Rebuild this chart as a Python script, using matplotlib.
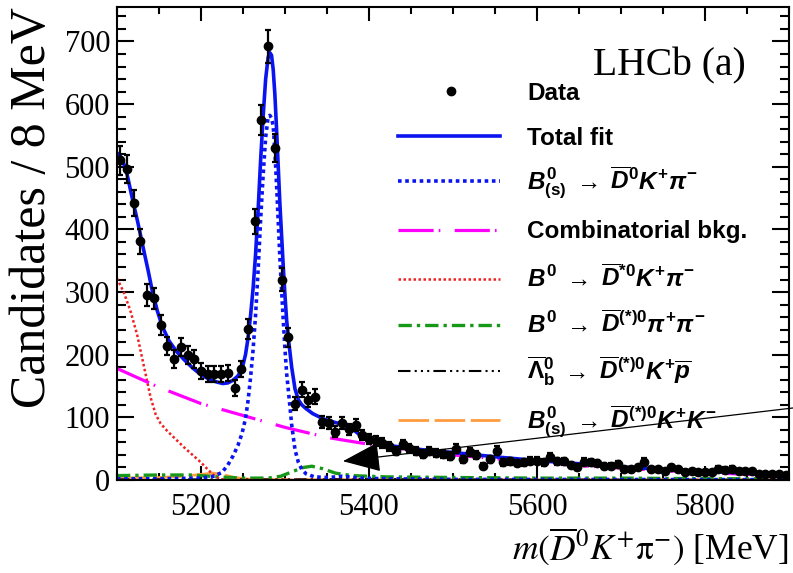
import numpy as np
import matplotlib.pyplot as plt
from matplotlib.ticker import MultipleLocator

plt.rcParams['mathtext.fontset'] = 'custom'
plt.rcParams['mathtext.rm'] = 'Liberation Sans:bold'
plt.rcParams['mathtext.it'] = 'Liberation Sans:italic:bold'
plt.rcParams['mathtext.bf'] = 'Liberation Sans:bold'

# data: 8 MeV bins from 5100 to 5900
bin_centers = np.arange(5104, 5900, 8)
counts = [510, 496, 442, 381, 295, 290, 247, 214, 193, 212,
          200, 193, 174, 169, 169, 169, 171, 147, 177, 241,
          413, 574, 692, 530, 320, 228, 122, 144, 128, 133,
          92, 91, 77, 91, 81, 88, 72, 66, 62, 59,
          54, 46, 57, 51, 46, 41, 46, 43, 41, 38,
          50, 33, 45, 40, 22, 33, 47, 28, 30, 27,
          28, 31, 31, 28, 37, 30, 30, 24, 20, 29,
          28, 27, 23, 22, 25, 17, 17, 20, 29, 17,
          17, 14, 20, 17, 12, 14, 12, 12, 12, 18,
          16, 18, 14, 14, 14, 9, 10, 9, 9, 8]
errors = np.sqrt(counts)

# fit components
total_m = [5100, 5106, 5112, 5119, 5125, 5131, 5137, 5142, 5148, 5154, 5162, 5171,
           5180, 5190, 5200, 5211, 5220, 5226, 5232, 5238, 5244, 5249, 5253, 5256,
           5259, 5262, 5265, 5268, 5271, 5274, 5277, 5280, 5282, 5284, 5286, 5288,
           5290, 5292, 5294, 5296, 5298, 5300, 5302, 5305, 5308, 5312, 5316, 5320,
           5325, 5333, 5345, 5354, 5362, 5368, 5374, 5380, 5389, 5400, 5413, 5430,
           5452, 5480, 5500, 5550, 5600, 5650, 5700, 5750, 5800, 5850, 5900]
total_v = [522, 514, 488, 445, 410, 372, 335, 302, 270, 245, 222, 205,
           192, 179, 168, 160, 156, 154, 155, 159, 166, 178, 200, 226,
           262, 305, 360, 430, 510, 580, 640, 675, 682, 678, 655, 615,
           560, 500, 440, 390, 340, 295, 255, 215, 180, 145, 128, 120,
           114, 106, 98, 94, 91, 90, 87, 82, 72, 64, 59, 54,
           50, 46, 44, 37, 31, 26, 21, 17, 14, 11, 8]

sig_m = [5100, 5150, 5200, 5215, 5225, 5232, 5238, 5244, 5249, 5253, 5256, 5259,
         5262, 5265, 5268, 5271, 5274, 5277, 5280, 5282, 5284, 5286, 5288, 5290,
         5292, 5294, 5296, 5298, 5300, 5302, 5305, 5308, 5312, 5316, 5320, 5325,
         5335, 5350, 5362, 5368, 5376, 5390, 5420, 5500, 5900]
sig_v = [2, 2, 3, 6, 12, 24, 38, 55, 75, 98, 126, 163,
         207, 263, 334, 415, 486, 547, 580, 582, 578, 565, 525, 471,
         412, 353, 303, 254, 209, 170, 130, 88, 48, 28, 17, 10,
         5, 4, 5, 6, 5, 3, 2, 1, 0.5]

comb_m = [5100, 5150, 5200, 5250, 5300, 5350, 5400, 5450, 5500, 5550,
          5600, 5650, 5700, 5750, 5800, 5850, 5900]
comb_v = [178, 148, 122, 103, 84, 68, 57, 48, 40, 34,
          28, 23, 19, 15, 12, 9, 7]

dstar_m = [5100, 5108, 5116, 5124, 5132, 5140, 5146, 5152, 5160, 5170,
           5180, 5190, 5200, 5208, 5215, 5222, 5230, 5900]
dstar_v = [322, 300, 270, 232, 182, 132, 105, 90, 78, 65,
           52, 40, 28, 17, 8, 2, 0, 0]

pipi_m = [5100, 5150, 5190, 5220, 5250, 5280, 5295, 5310, 5322, 5332,
          5345, 5360, 5380, 5420, 5500, 5600, 5700, 5800, 5900]
pipi_v = [7, 8, 8, 5, 3, 3, 6, 14, 20, 22,
          18, 11, 7, 5, 4, 3, 3, 2, 2]

lb_m = [5100, 5300, 5400, 5500, 5900]
lb_v = [1, 1, 1.5, 1, 0.5]

kk_m = [5100, 5150, 5180, 5200, 5215, 5228, 5240, 5255, 5280, 5900]
kk_v = [3, 4, 6, 9, 11, 8, 4, 1.5, 0.5, 0.3]

blue = '#0a14f0'
magenta = '#ff00ff'
red = '#f02020'
green = '#189818'
orange = '#ff9c40'

fig = plt.figure(figsize=(7.93, 5.73), dpi=100)
ax = fig.add_axes([0.1475, 0.1623, 0.8474, 0.8255])

lines = [
    (kk_m, kk_v, dict(color=orange, lw=2.0, dashes=(11, 2))),
    (lb_m, lb_v, dict(color='k', lw=1.5, dashes=(6, 2, 1, 2, 1, 2, 1, 2))),
    (pipi_m, pipi_v, dict(color=green, lw=2.4, dashes=(4, 1.5, 1, 1.5))),
    (dstar_m, dstar_v, dict(color=red, lw=1.8, dashes=(1, 1))),
    (comb_m, comb_v, dict(color=magenta, lw=2.3, dashes=(11, 1.6, 0.5, 4.5))),
    (sig_m, sig_v, dict(color=blue, lw=2.6, dashes=(1, 1))),
    (total_m, total_v, dict(color=blue, lw=2.6)),
]
for xm, yv, st in lines:
    ax.plot(xm, yv, **st)

ax.errorbar(bin_centers, counts, yerr=errors, fmt='o', color='k', ms=6,
            elinewidth=1.6, capsize=2.5, capthick=1.6, zorder=5)

# stray arrow in the original figure
ax.annotate('', xy=(5369, 30), xytext=(5905, 115),
            arrowprops=dict(arrowstyle='-|>,head_length=2.4,head_width=0.95',
                            mutation_scale=10, color='k', lw=0.9,
                            shrinkA=0, shrinkB=0),
            annotation_clip=False)

ax.set_xlim(5100, 5900)
ax.set_ylim(0, 755)
ax.xaxis.set_major_locator(MultipleLocator(200))
ax.xaxis.set_minor_locator(MultipleLocator(50))
ax.yaxis.set_major_locator(MultipleLocator(100))
ax.yaxis.set_minor_locator(MultipleLocator(20))
ax.tick_params(which='both', direction='in', top=True, right=True, width=1.5,
               labelsize=22)
ax.xaxis.set_tick_params(which='major', length=10, pad=9)
ax.xaxis.set_tick_params(which='minor', length=5)
ax.yaxis.set_tick_params(which='major', length=12, pad=5)
ax.yaxis.set_tick_params(which='minor', length=6.5)
for lab in ax.get_xticklabels() + ax.get_yticklabels():
    lab.set_fontfamily('Liberation Serif')
for sp in ax.spines.values():
    sp.set_linewidth(1.5)

ax.set_xlabel(r'$m(\overline{D}^{0}K^{+}\mathrm{\pi}^{-})$ [MeV]', loc='right',
              fontsize=25.5, family='Liberation Serif', math_fontfamily='stix',
              labelpad=3)
ax.set_ylabel('Candidates / 8 MeV', loc='top', fontsize=36,
              family='Liberation Serif', labelpad=6)

ax.text(0.936, 0.856, 'LHCb (a)', transform=ax.transAxes, ha='right',
        va='baseline', fontsize=28.5, family='Liberation Serif')

# legend, drawn by hand to keep the row spacing of the original
leg_rows = [0.822, 0.727, 0.632, 0.529, 0.425, 0.328, 0.230, 0.127]
leg_labels = [
    'Data',
    'Total fit',
    r'$B^{0}_{\mathrm{(s)}}\;\rightarrow\;\overline{D}^{0}K^{+}\pi^{-}$',
    'Combinatorial bkg.',
    r'$B^{0}\;\rightarrow\;\overline{D}^{*0}K^{+}\pi^{-}$',
    r'$B^{0}\;\rightarrow\;\overline{D}^{(*)0}\pi^{+}\pi^{-}$',
    r'$\overline{\Lambda}^{0}_{\mathrm{b}}\;\rightarrow\;\overline{D}^{(*)0}K^{+}\overline{p}$',
    r'$B^{0}_{\mathrm{(s)}}\;\rightarrow\;\overline{D}^{(*)0}K^{+}K^{-}$',
]
leg_styles = [None, lines[6][2], lines[5][2], lines[4][2], lines[3][2],
              lines[2][2], lines[1][2], lines[0][2]]
for yr, lab, st in zip(leg_rows, leg_labels, leg_styles):
    if st is None:
        ax.plot([0.497], [yr], 'o', color='k', ms=6, transform=ax.transAxes)
    else:
        ax.plot([0.418, 0.570], [yr, yr], transform=ax.transAxes, **st)
    ax.text(0.610, yr - 0.018, lab, transform=ax.transAxes, ha='left',
            va='baseline', fontsize=17.5, family='Liberation Sans',
            weight='bold')

fig.savefig('out.png', dpi=100)
